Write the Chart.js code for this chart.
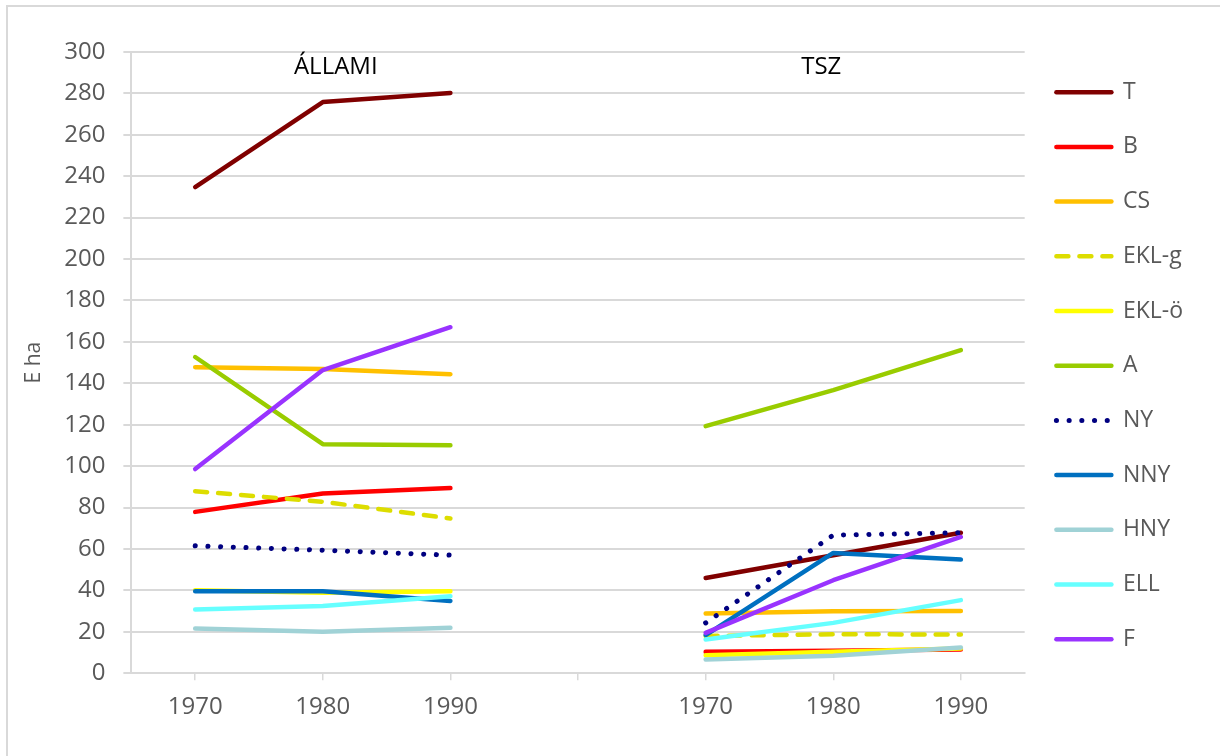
<!DOCTYPE html>
<html>
<head>
<meta charset="utf-8">
<script src="https://cdn.jsdelivr.net/npm/chart.js@4/dist/chart.umd.min.js"></script>
<style>
  html, body { margin: 0; padding: 0; background: #fff; }
  #wrap { width: 1220px; height: 756px; }
</style>
</head>
<body>
<div id="wrap"><canvas id="c" width="1220" height="756"></canvas></div>
<script>
// x categories: two groups (ÁLLAMI, TSZ) separated by an empty slot
const years = ["1970", "1980", "1990", "", "1970", "1980", "1990"];
const groupTitles = ["ÁLLAMI", "TSZ"];
const yTicks = [0, 300, 20];

const seriesNames = ["T", "B", "CS", "EKL-g", "EKL-ö", "A", "NY", "NNY", "HNY", "ELL", "F"];

const T     = [234.8, 275.8, 280.2, null, 46.0, 57.0, 67.8];
const B     = [77.9, 86.8, 89.4, null, 10.3, 10.9, 11.4];
const CS    = [147.8, 146.9, 144.4, null, 28.8, 29.9, 30.0];
const EKL_g = [87.9, 82.8, 74.7, null, 18.0, 18.8, 18.7];
const EKL_o = [40.1, 38.8, 39.6, null, 8.7, 10.3, 11.9];
const A     = [152.7, 110.6, 110.1, null, 119.3, 136.7, 156.0];
const NY    = [61.5, 59.4, 57.0, null, 24.3, 66.7, 67.8];
const NNY   = [39.6, 39.6, 34.9, null, 18.4, 58.1, 54.9];
const HNY   = [21.6, 20.0, 21.9, null, 6.6, 8.4, 12.4];
const ELL   = [30.8, 32.5, 37.2, null, 16.3, 24.3, 35.3];
const F     = [98.6, 146.4, 167.1, null, 19.5, 44.9, 65.8];

const seriesValues = [T, B, CS, EKL_g, EKL_o, A, NY, NNY, HNY, ELL, F];

const colors = ["#800000", "#FF0000", "#FFC000", "#DDDD00", "#FFFF00", "#99CC00",
                "#000080", "#0070C0", "#A0D2D6", "#66FFFF", "#9933FF"];
const dashes = { "EKL-g": [12, 11], "NY": [0.1, 12.6] };

const FONT = "'Open Sans', 'Noto Sans', sans-serif";
const GREY = "#595959";
const GRID = "#D9D9D9";

const datasets = seriesNames.map((name, i) => ({
  label: name,
  data: seriesValues[i],
  borderColor: colors[i],
  backgroundColor: colors[i],
  borderWidth: name === "NY" ? 5 : 4.5,
  borderDash: dashes[name] || [],
  borderCapStyle: "round",
  borderJoinStyle: "round",
  pointRadius: 0,
  pointHoverRadius: 0,
  tension: 0,
  spanGaps: false,
  order: seriesNames.length - i, // later series drawn on top
}));

// frame around the whole chart and the two group titles
const extras = {
  id: "extras",
  beforeDraw(chart) {
    const ctx = chart.ctx;
    ctx.save();
    ctx.strokeStyle = GRID;
    ctx.lineWidth = 2;
    ctx.strokeRect(7, 6, 1400, 900);
    ctx.restore();
  },
  afterDatasetsDraw(chart) {
    const ctx = chart.ctx;
    const x = chart.scales.x, y = chart.scales.y;
    ctx.save();
    ctx.font = "24px " + FONT;
    ctx.fillStyle = "#000";
    ctx.textAlign = "center";
    ctx.textBaseline = "middle";
    const ty = y.getPixelForValue(292.5);
    ctx.fillText(groupTitles[0], x.getPixelForValue(1) + 13, ty);
    ctx.fillText(groupTitles[1], x.getPixelForValue(5) - 12, ty);
    ctx.restore();
  }
};

new Chart(document.getElementById("c"), {
  type: "line",
  data: { labels: years, datasets: datasets },
  plugins: [extras],
  options: {
    responsive: false,
    animation: false,
    events: [],
    layout: { padding: { left: 9, right: 27, top: 49, bottom: 21 } },
    plugins: {
      tooltip: { enabled: false },
      legend: {
        position: "right",
        align: "start",
        labels: {
          usePointStyle: true,
          pointStyleWidth: 55,
          padding: 31.7,
          color: GREY,
          font: { family: FONT, size: 23 },
          generateLabels: (chart) => chart.data.datasets.map((ds, i) => ({
            text: ds.label,
            fillStyle: ds.borderColor,
            strokeStyle: ds.borderColor,
            lineWidth: ds.borderWidth,
            lineDash: ds.borderDash,
            lineCap: "round",
            pointStyle: "line",
            fontColor: GREY,
            hidden: false,
            datasetIndex: i,
          })),
        },
      },
    },
    scales: {
      x: {
        type: "category",
        offset: true,
        grid: {
          display: true,
          drawOnChartArea: false,
          offset: false,
          color: GRID,
          lineWidth: 1.5,
          tickLength: 7,
        },
        border: { display: true, color: GRID, width: 2 },
        ticks: { color: GREY, padding: 13, font: { family: FONT, size: 24 }, maxRotation: 0, autoSkip: false },
      },
      y: {
        min: yTicks[0],
        max: yTicks[1],
        ticks: { stepSize: yTicks[2], color: GREY, padding: 18, font: { family: FONT, size: 24 } },
        grid: { color: GRID, lineWidth: 2, tickLength: 8 },
        border: { display: true, color: GRID, width: 2 },
        title: {
          display: true,
          text: "E ha",
          color: GREY,
          font: { family: FONT, size: 21 },
          padding: { top: 12, bottom: 0 },
        },
        // push the plot top a little below the legend's first row
        afterFit: (scale) => { scale.paddingTop = 52; },
      },
    },
  },
});
</script>
</body>
</html>
